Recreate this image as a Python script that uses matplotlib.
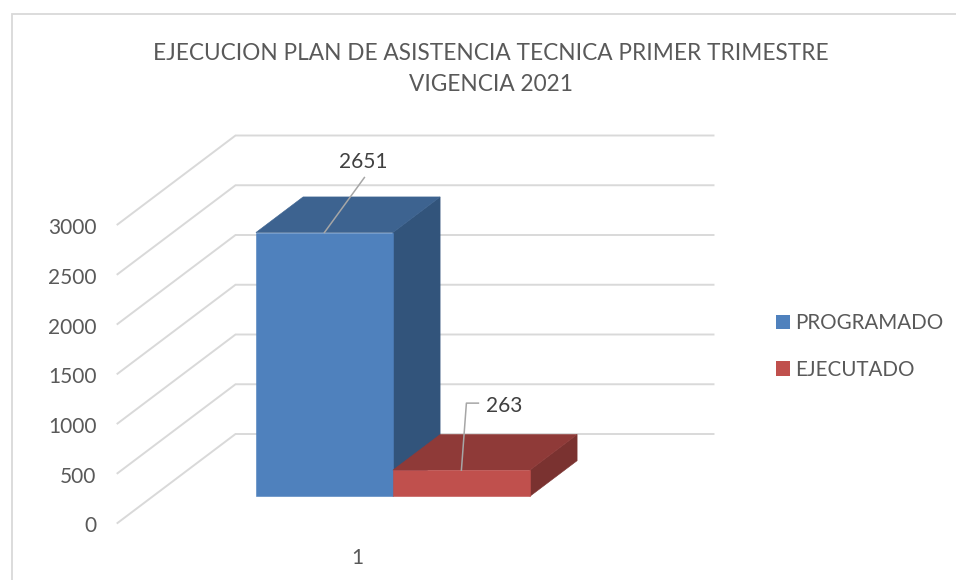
# 3d look column chart, drawn by hand as an oblique projection
import matplotlib
matplotlib.use('Agg')

import matplotlib.pyplot as plt
from matplotlib.lines import Line2D
from matplotlib.patches import Patch, Polygon
from matplotlib.transforms import ScaledTranslation

plt.rcParams['font.family'] = ['Lato', 'DejaVu Sans']

title = 'EJECUCION PLAN DE ASISTENCIA TECNICA PRIMER TRIMESTRE\nVIGENCIA 2021'
categories = ['1']
series_names = ['PROGRAMADO', 'EJECUTADO']
series_values = [2651, 263]
y_ticks = [0, 500, 1000, 1500, 2000, 2500, 3000]

W, H = 956, 580
GRAY = '#d9d9d9'
TEXT = '#595959'
LABEL = '#404040'
LEADER = '#a6a6a6'
front_cols = ['#4f81bd', '#c0504d']
top_cols = ['#3d6390', '#8f3a38']
side_cols = ['#32547b', '#7a3230']

fig = plt.figure(figsize=(W / 100, H / 100), dpi=100)
# the axes is the front plane of the 3d box
ax = fig.add_axes([117.5 / W, (H - 523) / H, 479 / W, 298.5 / H])
ax.set_xlim(0.5, 1.5)
ax.set_ylim(0, 3000)
ax.patch.set_visible(False)
for s in ax.spines.values():
    s.set_visible(False)

# one pixel in data units
PX = 1 / 479
PY = 3000 / 298.5
# how far the back wall is shifted from the front plane
DX = 118 * PX
DY = 89 * PY


def proj(x, y, d):
    return (x + d * DX, y + d * DY)


ax.set_xticks([1], categories)
ax.set_yticks(y_ticks, [str(v) for v in y_ticks])
ax.tick_params(axis='y', length=0, pad=15, labelsize=15, labelcolor=TEXT)
ax.tick_params(axis='x', length=0, pad=18, labelsize=15, labelcolor=TEXT)
# labels sit a bit below their line in the original
for lab in ax.get_yticklabels():
    lab.set_transform(lab.get_transform() + ScaledTranslation(0, -1.5 / 100, fig.dpi_scale_trans))

# floor/wall lines
for v in y_ticks:
    p0 = proj(0.5, v, 0)
    p1 = proj(0.5, v, 1)
    p2 = (p1[0] + 478 * PX, p1[1])
    ax.plot([p0[0], p1[0], p2[0]], [p0[1], p1[1], p2[1]], color=GRAY, lw=1.4,
            clip_on=False, zorder=1, solid_joinstyle='miter')

bar_w = 137 * PX
d0, d1 = 0.3, 0.7
left = 1 - bar_w + 0.5 * PX
for i, v in enumerate(series_values):
    x0 = left + i * bar_w
    x1 = x0 + bar_w
    front = [proj(x0, 0, d0), proj(x1, 0, d0), proj(x1, v, d0), proj(x0, v, d0)]
    top = [proj(x0, v, d0), proj(x1, v, d0), proj(x1, v, d1), proj(x0, v, d1)]
    side = [proj(x1, 0, d0), proj(x1, 0, d1), proj(x1, v, d1), proj(x1, v, d0)]
    for pts, col in [(side, side_cols[i]), (top, top_cols[i]), (front, front_cols[i])]:
        ax.add_patch(Polygon(pts, closed=True, facecolor=col, edgecolor=col, lw=0.4,
                             clip_on=False, zorder=2 + i))

# data labels with leader lines
ax_x, ax_y = proj(left + bar_w / 2, series_values[0], d0)
ax.plot([ax_x, ax_x + 40 * PX], [ax_y, ax_y + 55 * PY], color=LEADER, lw=1.1,
        clip_on=False, zorder=5)
ax.text(ax_x + 39 * PX, ax_y + 71 * PY, str(series_values[0]), ha='center', va='center',
        fontsize=15, color=LABEL, zorder=6)

bx, by = proj(left + bar_w * 1.5, series_values[1], d0)
ax.plot([bx, bx + 5 * PX, bx + 17 * PX], [by, by + 67 * PY, by + 67 * PY], color=LEADER, lw=1.1,
        clip_on=False, zorder=5)
ax.text(bx + 43 * PX, by + 64 * PY, str(series_values[1]), ha='center', va='center',
        fontsize=15, color=LABEL, zorder=6)

fig.text(491 / W, (H - 69) / H, title, ha='center', va='center', fontsize=16.25,
         color=TEXT, linespacing=1.6)

handles = [Patch(facecolor=c, edgecolor='none') for c in front_cols]
fs = 14.8
fig.legend(handles, series_names, loc='upper left', bbox_to_anchor=(776 / W, (H - 313) / H),
           frameon=False, fontsize=fs, borderpad=0, borderaxespad=0,
           handlelength=14 / (fs * 100 / 72), handleheight=14 / (fs * 100 / 72),
           handletextpad=0.24, labelspacing=1.3, labelcolor=TEXT)

# chart frame, only left and top show in the crop
fig.add_artist(Line2D([11.5 / W, 11.5 / W, 1], [0, (H - 13.5) / H, (H - 13.5) / H],
                      color=GRAY, lw=1.3, solid_joinstyle='miter'))

fig.savefig('out.png', dpi=100)
